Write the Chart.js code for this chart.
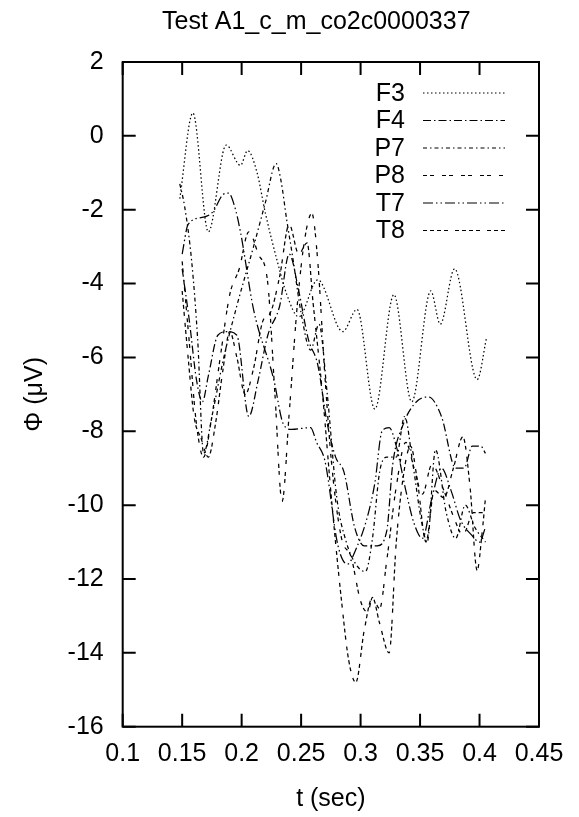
<!DOCTYPE html>
<html>
<head>
<meta charset="utf-8">
<script src="https://cdn.jsdelivr.net/npm/chart.js@4"></script>
<style>
  html, body { margin: 0; padding: 0; background: #fff; }
  canvas { display: block; }
</style>
</head>
<body>
<canvas id="eegChart" width="579" height="817"></canvas>
<script>
// channel traces, [t (sec), potential (uV)]
const channels = ['F3', 'F4', 'P7', 'P8', 'T7', 'T8'];

const F3 = [[0.148,-1.7],[0.159,0.62],[0.172,-2.6],[0.187,-0.25],[0.199,-0.8],[0.205,-0.4],[0.213,-1.0],
  [0.22,-2.1],[0.23,-3.4],[0.238,-4.3],[0.248,-4.9],[0.264,-3.9],[0.285,-5.3],[0.297,-4.7],[0.312,-7.4],
  [0.328,-4.3],[0.343,-7.2],[0.359,-4.2],[0.367,-5.1],[0.379,-3.6],[0.398,-6.6],[0.406,-5.45]];

const F4 = [[0.150,-3.6],[0.156,-5.0],[0.162,-6.6],[0.167,-7.2],[0.172,-6.5],[0.180,-5.4],[0.188,-5.3],
  [0.196,-5.4],[0.206,-7.6],[0.214,-6.6],[0.222,-5.4],[0.232,-4.6],[0.240,-3.2],[0.248,-4.2],[0.256,-5.5],
  [0.264,-6.2],[0.272,-7.8],[0.279,-8.7],[0.286,-9.1],[0.295,-10.6],[0.303,-11.1],[0.314,-11.1],[0.322,-10.7],
  [0.327,-8.9],[0.336,-7.8],[0.347,-7.2],[0.357,-7.07],[0.368,-7.6],[0.380,-9.0],[0.387,-9.0],[0.394,-8.4],
  [0.401,-8.4],[0.405,-8.6]];

const P7 = [[0.148,-1.3],[0.152,-1.9],[0.158,-3.4],[0.163,-5.5],[0.168,-8.6],[0.175,-7.6],[0.185,-6.0],
  [0.196,-4.6],[0.21,-3.0],[0.22,-1.8],[0.229,-0.75],[0.233,-1.2],[0.238,-2.3],[0.243,-3.3],[0.25,-4.8],
  [0.258,-5.8],[0.265,-5.1],[0.272,-7.0],[0.28,-9.8],[0.288,-11.0],[0.296,-11.6],[0.304,-11.8],[0.31,-10.9],
  [0.316,-9.1],[0.322,-8.7],[0.33,-8.7],[0.337,-7.6],[0.344,-8.9],[0.351,-10.4],[0.356,-11.0],[0.363,-8.5],
  [0.372,-10.2],[0.38,-10.9],[0.388,-10.0],[0.396,-10.6],[0.405,-11.0]];

const P8 = [[0.150,-3.4],[0.156,-5.6],[0.162,-7.8],[0.168,-8.7],[0.174,-7.8],[0.182,-6.0],[0.190,-4.3],
  [0.198,-3.6],[0.206,-2.6],[0.214,-3.2],[0.222,-4.0],[0.228,-7.0],[0.234,-9.9],[0.240,-7.5],[0.247,-4.5],
  [0.253,-2.8],[0.259,-2.1],[0.264,-3.4],[0.27,-6.5],[0.276,-9.0],[0.284,-10.9],[0.292,-11.4],[0.300,-12.6],
  [0.306,-12.9],[0.310,-12.5],[0.316,-12.8],[0.322,-11.5],[0.33,-9.5],[0.338,-8.3],[0.345,-9.0],[0.352,-9.7],
  [0.36,-8.9],[0.37,-9.6],[0.378,-10.3],[0.386,-10.8],[0.395,-10.2],[0.405,-10.2]];

const T7 = [[0.150,-3.2],[0.155,-2.4],[0.168,-2.2],[0.176,-2.05],[0.184,-1.6],[0.189,-1.55],[0.194,-1.9],
  [0.199,-2.6],[0.21,-4.7],[0.227,-6.6],[0.235,-7.8],[0.242,-7.95],[0.258,-7.9],[0.263,-8.3],[0.27,-8.8],
  [0.281,-11.1],[0.289,-11.6],[0.296,-11.2],[0.305,-10.4],[0.312,-9.4],[0.318,-8.0],[0.324,-7.9],[0.33,-8.4],
  [0.338,-9.6],[0.345,-10.5],[0.352,-10.9],[0.36,-9.8],[0.368,-9.0],[0.376,-9.6],[0.384,-10.4],[0.393,-10.8],
  [0.40,-11.0],[0.405,-10.6]];

const T8 = [[0.150,-4.2],[0.155,-6.0],[0.160,-7.6],[0.166,-8.2],[0.172,-8.7],[0.178,-7.8],[0.184,-6.4],
  [0.19,-5.3],[0.196,-6.0],[0.203,-7.0],[0.21,-6.3],[0.218,-5.0],[0.224,-4.8],[0.232,-3.8],[0.24,-2.4],
  [0.248,-3.2],[0.255,-2.9],[0.26,-4.5],[0.268,-7.0],[0.276,-10.0],[0.284,-12.6],[0.29,-14.2],[0.296,-14.8],
  [0.303,-13.4],[0.31,-12.5],[0.316,-13.2],[0.324,-14.0],[0.33,-11.0],[0.336,-9.2],[0.342,-8.4],[0.348,-9.4],
  [0.355,-11.0],[0.362,-9.6],[0.37,-9.8],[0.378,-9.0],[0.386,-8.15],[0.392,-9.5],[0.398,-11.77],[0.402,-10.8],
  [0.405,-9.8]];

const xTicks = [0.1, 0.15, 0.2, 0.25, 0.3, 0.35, 0.4, 0.45];
const yTicks = [2, 0, -2, -4, -6, -8, -10, -12, -14, -16];

const traces = [F3, F4, P7, P8, T7, T8];
const dashes = [[1.5, 2.5], [8, 3, 1.5, 3], [4, 3, 1.5, 3], [4, 3, 4, 8], [10, 3, 1.5, 3, 1.5, 3], [4, 3, 4, 3, 4, 3, 4, 7]];

const FONT = '"Liberation Sans", Arial, Helvetica, sans-serif';

// gnuplot style frame, inward ticks, title and key
const framePlugin = {
    id: 'frame',
    afterDatasetsDraw(chart) {
        const ctx = chart.ctx;
        const a = chart.chartArea;
        const xs = chart.scales.x, ys = chart.scales.y;
        ctx.save();
        ctx.strokeStyle = '#000';
        ctx.lineWidth = 2;
        ctx.setLineDash([]);
        ctx.strokeRect(a.left, a.top, a.right - a.left, a.bottom - a.top);
        const tl = 13;
        ctx.beginPath();
        xTicks.forEach(v => {
            const px = xs.getPixelForValue(v);
            ctx.moveTo(px, a.bottom); ctx.lineTo(px, a.bottom - tl);
            ctx.moveTo(px, a.top); ctx.lineTo(px, a.top + tl);
        });
        yTicks.forEach(v => {
            const py = ys.getPixelForValue(v);
            ctx.moveTo(a.left, py); ctx.lineTo(a.left + tl, py);
            ctx.moveTo(a.right, py); ctx.lineTo(a.right - tl, py);
        });
        ctx.stroke();

        // title
        ctx.fillStyle = '#000';
        ctx.font = '25px ' + FONT;
        ctx.textAlign = 'left';
        ctx.textBaseline = 'alphabetic';
        ctx.fillText('Test A1_c_m_co2c0000337', 162, 29);

        // key
        ctx.lineWidth = 1.2;
        channels.forEach((name, i) => {
            const y = 93 + i * 27.5;
            ctx.textAlign = 'right';
            ctx.textBaseline = 'middle';
            ctx.fillText(name, 405, y + 1);
            ctx.setLineDash(dashes[i]);
            ctx.beginPath();
            ctx.moveTo(423, y);
            ctx.lineTo(505, y);
            ctx.stroke();
        });
        ctx.restore();
    }
};

new Chart(document.getElementById('eegChart'), {
    type: 'line',
    data: {
        datasets: channels.map((name, i) => ({
            label: name,
            data: traces[i].map(p => ({ x: p[0], y: p[1] })),
            borderColor: '#000',
            borderWidth: 1.25,
            borderDash: dashes[i],
            pointRadius: 0,
            fill: false,
            cubicInterpolationMode: 'monotone'
        }))
    },
    options: {
        responsive: false,
        animation: false,
        devicePixelRatio: 1,
        layout: { padding: { top: 62, right: 40, left: 0, bottom: 0 } },
        plugins: {
            legend: { display: false },
            title: { display: false },
            tooltip: { enabled: false }
        },
        scales: {
            x: {
                type: 'linear',
                min: 0.1,
                max: 0.45,
                afterBuildTicks: s => { s.ticks = xTicks.map(v => ({ value: v })); },
                afterFit: s => { s.height = 90.3; },
                grid: { display: false, drawTicks: false },
                border: { display: false },
                ticks: {
                    color: '#000',
                    font: { family: FONT, size: 25 },
                    padding: 12,
                    maxRotation: 0,
                    autoSkip: false,
                    callback: v => String(v)
                },
                title: {
                    display: true,
                    text: 't (sec)',
                    color: '#000',
                    font: { family: FONT, size: 25 },
                    padding: { top: 0, bottom: 3 }
                }
            },
            y: {
                type: 'linear',
                min: -16,
                max: 2,
                afterBuildTicks: s => { s.ticks = yTicks.map(v => ({ value: v })); },
                afterFit: s => { s.width = 122.7; },
                grid: { display: false, drawTicks: false },
                border: { display: false },
                ticks: {
                    color: '#000',
                    font: { family: FONT, size: 25 },
                    padding: 19,
                    autoSkip: false
                },
                title: {
                    display: true,
                    text: 'Φ (μV)',
                    color: '#000',
                    font: { family: FONT, size: 25 },
                    padding: { top: 20, bottom: 0 }
                }
            }
        }
    },
    plugins: [framePlugin]
});
</script>
</body>
</html>
